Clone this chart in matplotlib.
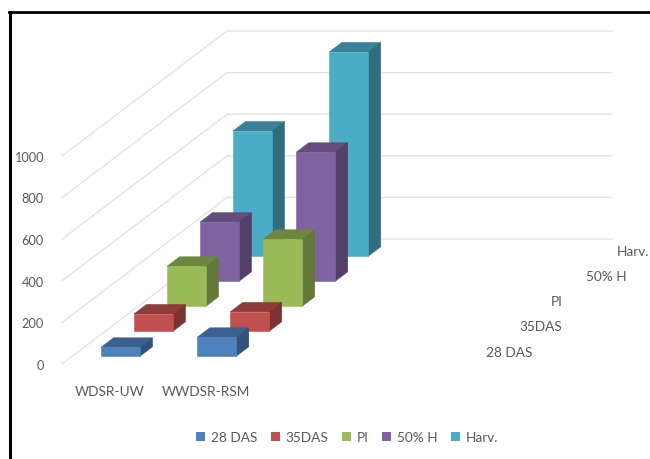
import matplotlib
matplotlib.use("Agg")
import matplotlib.pyplot as plt
from matplotlib.patches import Polygon, Patch

# Chart data
categories = ["WDSR-UW", "WWDSR-RSM"]
series_names = ["28 DAS", "35DAS", "PI", "50% H", "Harv."]
das28 = [43, 91]
das35 = [83, 93]
pi_stage = [192, 322]
h50 = [284, 620]
harvest = [602, 982]
value_ticks = [0, 200, 400, 600, 800, 1000]

series_values = [das28, das35, pi_stage, h50, harvest]

# Face colours per series: front, top, side
front = ["#4F81BD", "#C0504D", "#9BBB59", "#8064A2", "#4BACC6"]
top = ["#3A6190", "#8E3B39", "#6E873F", "#634C7E", "#378298"]
side = ["#30527D", "#7C3230", "#64783A", "#543F6A", "#316D7E"]

TEXT = "#595959"
GRID = "#E3E3E3"
FONT = "Lato"

# Oblique projection: each depth step shifts by these amounts in data units
CAT_PX = 96.25
VAL_PX = 0.208
ZERO_Y = 365
DX = 33 / CAT_PX
DY = 25 / VAL_PX
N_CATS = 4
BAR_START = 0.2985
BAR_W = 0.405
DEPTH_START = 0.31
DEPTH_LEN = 0.38


def proj(x, v, d):
    return (x + d * DX, v + d * DY)


fig = plt.figure(figsize=(6.5, 4.6), dpi=100)
ax = fig.add_axes([0, 0, 1, 1])
ax.set_xlim(-62 / CAT_PX, (650 - 62) / CAT_PX)
ax.set_ylim((ZERO_Y - 460) / VAL_PX, ZERO_Y / VAL_PX)
ax.axis("off")

# Black frame along the top and left of the picture
fig.add_artist(plt.Line2D([10 / 650, 10 / 650], [0, 1 - 12.5 / 460], color="black", lw=2.2))
fig.add_artist(plt.Line2D([9 / 650, 1], [1 - 12.5 / 460] * 2, color="black", lw=2.0))

# Wall gridlines and value labels
n_depth = len(series_names)
for v in value_ticks:
    p0 = proj(0, v, 0)
    p1 = proj(0, v, n_depth)
    p2 = proj(N_CATS, v, n_depth)
    ax.plot([p0[0], p1[0], p2[0]], [p0[1], p1[1], p2[1]], color=GRID, lw=1.0, zorder=1,
            solid_joinstyle="miter")
    ax.annotate(str(v), xy=p0, xytext=(-18 * 0.72, -0.6), textcoords="offset points",
                ha="right", va="center", fontsize=9.2, color=TEXT, family=FONT)

# Boxes are painted from the back row forward so nearer ones overlap farther ones
z = 2
for s in range(n_depth - 1, -1, -1):
    d0 = s + DEPTH_START
    d1 = d0 + DEPTH_LEN
    for c, val in enumerate(series_values[s]):
        x0 = c + BAR_START
        x1 = x0 + BAR_W
        faces = [
            ([proj(x0, val, d0), proj(x1, val, d0), proj(x1, val, d1), proj(x0, val, d1)], top[s]),
            ([proj(x1, 0, d0), proj(x1, 0, d1), proj(x1, val, d1), proj(x1, val, d0)], side[s]),
            ([proj(x0, 0, d0), proj(x1, 0, d0), proj(x1, val, d0), proj(x0, val, d0)], front[s]),
        ]
        for pts, col in faces:
            ax.add_patch(Polygon(pts, closed=True, facecolor=col, edgecolor=col, lw=0.4, zorder=z))
        z += 1

# Category labels under the front row
for c, name in enumerate(categories):
    ax.annotate(name, xy=proj(c + 0.5, 0, 0), xytext=(0, -26 * 0.72 - 1), textcoords="offset points",
                ha="center", va="center", fontsize=9.8, color=TEXT, family=FONT)

# Series labels stepping along the depth axis
depth_label_x = [509.5, 540.5, 557, 606, 633]
depth_label_y = [353.5, 327.5, 302.5, 277.5, 252.5]
for name, px, py in zip(series_names, depth_label_x, depth_label_y):
    ax.text((px - 62) / CAT_PX, (ZERO_Y - py) / VAL_PX, name, ha="center", va="center",
            fontsize=9.8, color=TEXT, family=FONT)

handles = [Patch(facecolor=c, edgecolor="none", label=n) for c, n in zip(front, series_names)]
ax.legend(handles=handles, ncol=5, frameon=False, loc="center", bbox_to_anchor=(347 / 650, 1 - 438.5 / 460),
          prop={"family": FONT, "size": 9.8}, labelcolor=TEXT, handlelength=0.66, handleheight=0.66,
          handletextpad=0.42, columnspacing=1.0, borderpad=0, borderaxespad=0)

fig.savefig("out.png", dpi=100)
